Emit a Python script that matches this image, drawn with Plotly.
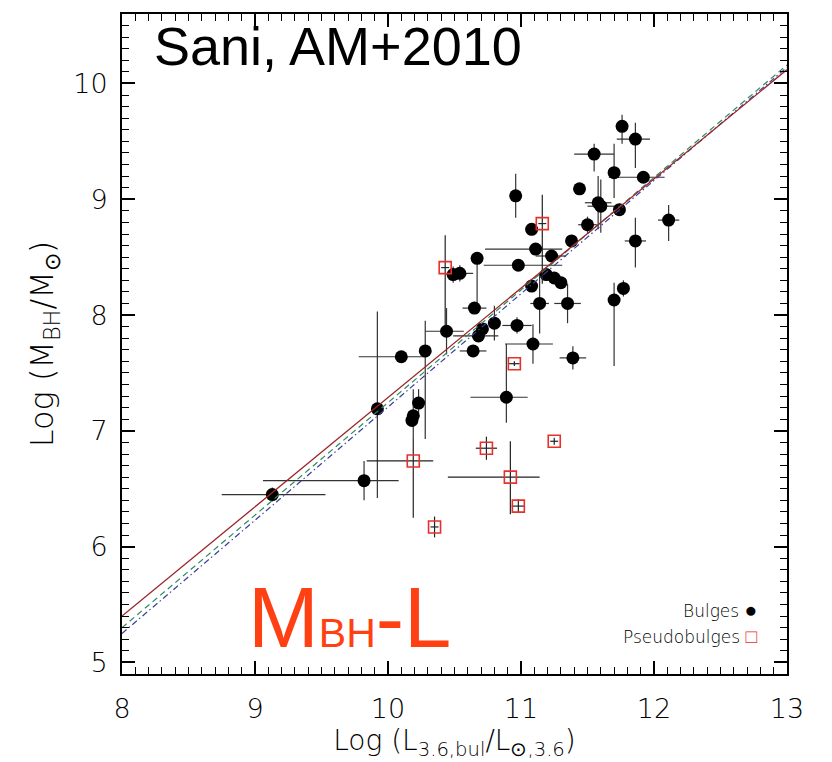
import plotly.graph_objects as go

# ---- Bulges (filled circles) ----
bul_x = [9.13, 9.82, 9.92, 10.10, 10.28, 10.23, 10.19, 10.18, 10.44, 10.49, 10.54, 10.67, 10.65,
         10.80, 10.97, 10.71, 10.68, 11.09, 10.64, 10.96, 11.08, 11.11, 10.98, 11.76, 11.86, 11.55,
         11.70, 11.92, 11.44, 11.58, 11.60, 11.74, 11.50, 11.38, 12.11, 11.86, 11.23, 11.19, 11.25,
         11.30, 11.08, 11.14, 11.35, 11.70, 11.77, 11.39, 10.89]
bul_y = [6.45, 6.57, 7.19, 7.64, 7.69, 7.24, 7.13, 7.09, 7.86, 8.35, 8.36, 8.49, 8.06,
         7.93, 7.91, 7.88, 7.82, 7.75, 7.69, 9.03, 8.74, 8.57, 8.43, 9.63, 9.52, 9.39,
         9.23, 9.19, 9.09, 8.97, 8.94, 8.91, 8.78, 8.64, 8.82, 8.64, 8.51, 8.35, 8.32,
         8.28, 8.25, 8.10, 8.10, 8.13, 8.23, 7.63, 7.29]
bul_xm = [0.38, 0.76, 0.04, 0.32, 0.03, 0.03, 0.03, 0.03, 0.16, 0.05, 0.05, 0.03, 0.09,
          0.04, 0.11, 0.03, 0.19, 0.21, 0.10, 0.03, 0.03, 0.38, 0.26, 0.03, 0.14, 0.15,
          0.03, 0.26, 0.03, 0.10, 0.10, 0.03, 0.07, 0.03, 0.08, 0.08, 0.12, 0.03, 0.03,
          0.03, 0.03, 0.07, 0.10, 0.03, 0.03, 0.10, 0.27]
bul_xp = [0.40, 0.26, 0.04, 0.19, 0.03, 0.03, 0.03, 0.03, 0.13, 0.10, 0.10, 0.03, 0.09,
          0.04, 0.11, 0.03, 0.15, 0.15, 0.10, 0.03, 0.03, 0.20, 0.33, 0.03, 0.11, 0.15,
          0.03, 0.16, 0.03, 0.10, 0.10, 0.03, 0.07, 0.03, 0.08, 0.08, 0.11, 0.03, 0.03,
          0.03, 0.03, 0.07, 0.10, 0.03, 0.03, 0.10, 0.16]
bul_ym = [0.06, 0.17, 0.77, 0.05, 0.76, 0.12, 0.20, 0.05, 0.20, 0.07, 0.07, 0.43, 0.05,
          0.15, 0.07, 0.05, 0.05, 0.17, 0.05, 0.19, 0.05, 0.05, 0.05, 0.15, 0.25, 0.15,
          0.22, 0.05, 0.05, 0.23, 0.23, 0.05, 0.07, 0.05, 0.18, 0.23, 0.05, 0.05, 0.05,
          0.05, 0.05, 0.26, 0.17, 0.57, 0.07, 0.10, 0.22]
bul_yp = [0.06, 0.17, 0.84, 0.05, 0.26, 0.12, 0.23, 0.05, 0.20, 0.07, 0.07, 0.05, 0.05,
          0.15, 0.07, 0.05, 0.05, 0.17, 0.05, 0.19, 0.05, 0.05, 0.05, 0.10, 0.14, 0.09,
          0.25, 0.05, 0.05, 0.23, 0.23, 0.05, 0.07, 0.05, 0.13, 0.20, 0.05, 0.05, 0.05,
          0.05, 0.05, 0.26, 0.17, 0.15, 0.07, 0.10, 0.46]

# ---- Pseudobulges (open red squares) ----
ps_x = [10.43, 11.16, 10.95, 10.74, 11.25, 10.19, 10.92, 10.98, 10.35]
ps_y = [8.41, 8.79, 7.58, 6.85, 6.91, 6.74, 6.60, 6.35, 6.17]
ps_xm = [0.03, 0.03, 0.04, 0.08, 0.03, 0.35, 0.47, 0.05, 0.03]
ps_xp = [0.03, 0.03, 0.04, 0.08, 0.03, 0.15, 0.22, 0.05, 0.03]
ps_ym = [0.50, 0.52, 0.02, 0.10, 0.03, 0.49, 0.32, 0.06, 0.09]
ps_yp = [0.28, 0.25, 0.02, 0.10, 0.03, 0.19, 0.31, 0.06, 0.09]

# ---- Fit lines (endpoints at axis limits) ----
fit_x = [8.0, 13.0]
fit_red_y = [5.40, 10.12]
fit_green_y = [5.30, 10.16]
fit_blue_y = [5.25, 10.14]

x_ticks = [8, 9, 10, 11, 12, 13]
y_ticks = [5, 6, 7, 8, 9, 10]

LABFONT = "'DejaVu Sans', sans-serif"

fig = go.Figure()

fig.add_trace(go.Scatter(
    x=bul_x, y=bul_y, mode="markers",
    marker=dict(symbol="circle", size=13, color="black"),
    error_x=dict(type="data", symmetric=False, array=bul_xp, arrayminus=bul_xm,
                 width=0, thickness=1.2, color="#333333"),
    error_y=dict(type="data", symmetric=False, array=bul_yp, arrayminus=bul_ym,
                 width=0, thickness=1.2, color="#333333"),
    showlegend=False))

fig.add_trace(go.Scatter(
    x=ps_x, y=ps_y, mode="markers",
    marker=dict(symbol="square-open", size=12, color="#e8302a", line=dict(width=1.6)),
    error_x=dict(type="data", symmetric=False, array=ps_xp, arrayminus=ps_xm,
                 width=0, thickness=1.2, color="#222222"),
    error_y=dict(type="data", symmetric=False, array=ps_yp, arrayminus=ps_ym,
                 width=0, thickness=1.2, color="#222222"),
    showlegend=False))

fig.add_trace(go.Scatter(x=fit_x, y=fit_green_y, mode="lines",
                         line=dict(color="#2e8b57", width=1.2, dash="6px,4px"), showlegend=False))
fig.add_trace(go.Scatter(x=fit_x, y=fit_blue_y, mode="lines",
                         line=dict(color="#3a3f9e", width=1.2, dash="6px,3px,1.5px,3px"), showlegend=False))
fig.add_trace(go.Scatter(x=fit_x, y=fit_red_y, mode="lines",
                         line=dict(color="#9a2428", width=1.3), showlegend=False))

axis_common = dict(
    showgrid=False, zeroline=False, showline=True, linecolor="black", linewidth=2,
    mirror="ticks", ticks="inside", ticklen=13, tickwidth=1.5, tickcolor="black",
    minor=dict(ticks="inside", ticklen=7, tickwidth=1.2, tickcolor="black", dtick=0.1, showgrid=False),
    tickfont=dict(family=LABFONT, size=27, color="black", weight=200),
)

fig.update_xaxes(range=[8, 13], tickvals=x_ticks, ticktext=[str(v) for v in x_ticks],
                 ticklabelstandoff=10,
                 title=dict(text="Log (L<sub>3.6,bul</sub>/L<sub>⊙,3.6</sub>)",
                            font=dict(family=LABFONT, size=28, color="black", weight=200), standoff=2),
                 **axis_common)
fig.update_yaxes(range=[4.9, 10.6], tickvals=y_ticks, ticktext=[str(v) for v in y_ticks],
                 ticklabelstandoff=7,
                 title=dict(text="Log (M<sub>BH</sub>/M<sub>⊙</sub>)",
                            font=dict(family=LABFONT, size=32, color="black", weight=200), standoff=10),
                 **axis_common)

fig.add_annotation(text="Sani, AM+2010", xref="paper", yref="paper", x=0.045, y=0.952,
                   xanchor="left", yanchor="middle", showarrow=False,
                   font=dict(family="'Liberation Sans', Arial, sans-serif", size=54, color="black"))
fig.add_annotation(text="M<span style='font-size:41px'>BH</span>-L", xref="paper", yref="paper",
                   x=0.186, y=0.01, xanchor="left", yanchor="bottom", showarrow=False,
                   font=dict(family="'Liberation Sans', Arial, sans-serif", size=85, color="#ff4013"))
fig.add_annotation(text="Bulges <span style='font-size:21px'>●</span>", xref="paper", yref="paper",
                   x=0.958, y=0.097, xanchor="right", yanchor="middle", showarrow=False,
                   font=dict(family=LABFONT, size=17, color="black", weight=200))
fig.add_annotation(text="Pseudobulges <span style='color:#e8302a;font-size:19px'>□</span>",
                   xref="paper", yref="paper",
                   x=0.958, y=0.058, xanchor="right", yanchor="middle", showarrow=False,
                   font=dict(family=LABFONT, size=17, color="black", weight=200))

fig.update_layout(width=832, height=762, margin=dict(l=122, r=45, t=12, b=88),
                  paper_bgcolor="white", plot_bgcolor="white")

fig.write_html("out.html")
